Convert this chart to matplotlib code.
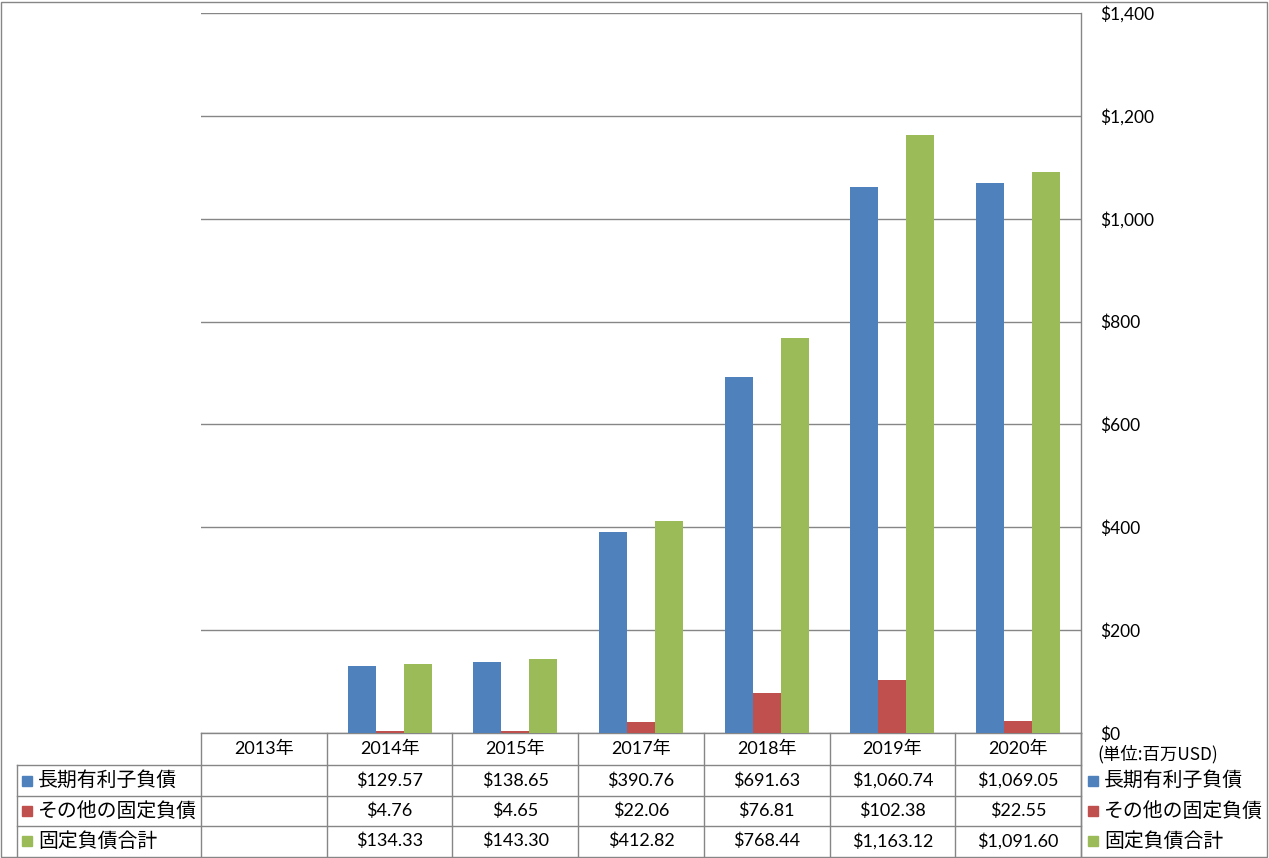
import matplotlib
matplotlib.use('Agg')
import matplotlib.pyplot as plt
import numpy as np
from matplotlib.ticker import FuncFormatter
from matplotlib.lines import Line2D
from matplotlib.patches import Rectangle

plt.rcParams['font.family'] = ['Lato', 'Noto Sans CJK JP', 'DejaVu Sans']

years = ['2013年', '2014年', '2015年', '2017年', '2018年', '2019年', '2020年']
series_names = ['長期有利子負債', 'その他の固定負債', '固定負債合計']
long_debt = [np.nan, 129.57, 138.65, 390.76, 691.63, 1060.74, 1069.05]
other_fixed = [np.nan, 4.76, 4.65, 22.06, 76.81, 102.38, 22.55]
total_fixed = [np.nan, 134.33, 143.30, 412.82, 768.44, 1163.12, 1091.60]
colors = ['#4F81BD', '#C0504D', '#9BBB59']
unit_note = '(単位:百万USD)'

W, H = 1269, 858
fig = plt.figure(figsize=(W / 100, H / 100), dpi=100)

# pixel helpers (layout only)
def fx(x):
    return x / W

def fy(y):
    return 1 - y / H

L, R, T, B = 201, 1081, 13, 733
ax = fig.add_axes([fx(L), fy(B), fx(R) - fx(L), fy(T) - fy(B)])

x = np.arange(len(years))
bw = 0.223
for i, vals in enumerate([long_debt, other_fixed, total_fixed]):
    ax.bar(x + (i - 1) * bw, vals, bw, color=colors[i], zorder=3)

ax.set_xlim(-0.5, len(years) - 0.5)
ax.set_ylim(0, 1400)
ax.set_yticks(np.arange(0, 1401, 200))
ax.yaxis.set_major_formatter(FuncFormatter(lambda v, p: '${:,.0f}'.format(v)))
ax.yaxis.tick_right()
ax.tick_params(axis='y', length=0, pad=14, labelsize=12.5, labelcolor='#000000')
ax.tick_params(axis='x', length=0, labelbottom=False)
ax.set_xticks([])
ax.yaxis.grid(True, color='#868686', lw=1, zorder=0)
ax.set_axisbelow(True)
for s in ['left', 'top']:
    ax.spines[s].set_visible(False)
for s in ['right', 'bottom']:
    ax.spines[s].set_color('#868686')
    ax.spines[s].set_linewidth(1)

lc = '#868686'
def hline(y, x0, x1):
    fig.add_artist(Line2D([fx(x0), fx(x1)], [fy(y), fy(y)], color=lc, lw=1))

def vline(xp, y0, y1):
    fig.add_artist(Line2D([fx(xp), fx(xp)], [fy(y0), fy(y1)], color=lc, lw=1))

# data table
colw = (R - L) / len(years)
rows = [765, 796, 826, 856]
for k in range(len(years) + 1):
    vline(L + k * colw, B, 856)
vline(R, B, 858)
vline(17, 765, 856)
for y in rows[:-1]:
    hline(y, 17, R)

fs = 13
for k, yr in enumerate(years):
    cx = L + (k + 0.5) * colw
    fig.text(fx(cx), fy((B + 765) / 2), yr, ha='center', va='center', fontsize=fs)
    for r, vals in enumerate([long_debt, other_fixed, total_fixed]):
        v = vals[k]
        if not np.isnan(v):
            fig.text(fx(cx), fy((rows[r] + rows[r + 1]) / 2), '${:,.2f}'.format(v),
                     ha='center', va='center', fontsize=fs)

jp = ['Noto Sans CJK JP', 'DejaVu Sans']
for r, name in enumerate(series_names):
    yc = (rows[r] + rows[r + 1]) / 2
    fig.add_artist(Rectangle((fx(22), fy(yc + 5)), fx(10), 10 / H, color=colors[r]))
    fig.text(fx(38), fy(yc), name, ha='left', va='center', fontsize=14.3, family=jp)
    fig.add_artist(Rectangle((fx(1088), fy(yc + 5)), fx(10), 10 / H, color=colors[r]))
    fig.text(fx(1104), fy(yc), name, ha='left', va='center', fontsize=14.3, family=jp)

fig.text(fx(1097), fy(754), unit_note, ha='left', va='center', fontsize=12.5, family=jp)

# outer border
fig.add_artist(Rectangle((fx(0.5), fy(856.5)), fx(1266.5), 855 / H,
                         fill=False, edgecolor=lc, lw=1))

plt.savefig('out.png', dpi=100)
